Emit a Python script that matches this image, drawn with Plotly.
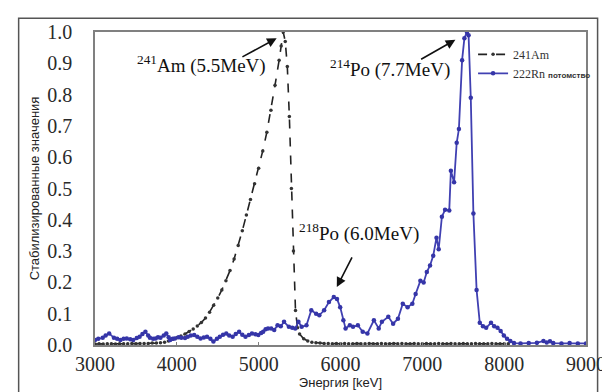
import plotly.graph_objects as go

# 241Am spectrum (normalized)
am_energy = [3000, 3050, 3100, 3150, 3200, 3250, 3300, 3350, 3400, 3450, 3500, 3550, 3600, 3650, 3700, 3750,
             3800, 3850, 3900, 3950, 4000, 4050, 4100, 4150, 4200, 4250, 4300, 4350, 4400, 4450, 4500,
             4550, 4600, 4650, 4700, 4750, 4800, 4850, 4900, 4950, 5000, 5050, 5100, 5150, 5200, 5250,
             5275, 5300, 5325, 5350, 5375, 5400, 5425, 5450, 5475, 5500, 5550, 5600, 5650, 5700, 5750,
             5800, 5850, 5900, 5950, 6000, 6050, 6100, 6150, 6200, 6250, 6300, 6350, 6400, 6450, 6500,
             6550, 6600, 6650, 6700, 6750, 6800, 6850, 6900, 6950, 7000, 7050, 7100, 7150, 7200, 7250,
             7300, 7350, 7400, 7450, 7500, 7550, 7600, 7650, 7700, 7750, 7800, 7850, 7900, 7950, 8000, 8050]
am_value = [0.003, 0.004, 0.003, 0.004, 0.004, 0.003, 0.004, 0.004, 0.004, 0.005, 0.004, 0.005, 0.005, 0.005, 0.006, 0.006,
            0.007, 0.009, 0.013, 0.018, 0.023, 0.029, 0.035, 0.043, 0.051, 0.061, 0.072, 0.086, 0.105, 0.127, 0.150,
            0.176, 0.205, 0.238, 0.275, 0.318, 0.365, 0.415, 0.465, 0.515, 0.565, 0.620, 0.680, 0.750, 0.830, 0.910,
            0.955, 1.000, 0.970, 0.890, 0.730, 0.500, 0.300, 0.110, 0.055, 0.035, 0.020, 0.013, 0.009, 0.007, 0.006,
            0.005, 0.005, 0.004, 0.005, 0.004, 0.005, 0.004, 0.004, 0.005, 0.004, 0.004, 0.005, 0.004, 0.004, 0.005,
            0.004, 0.004, 0.005, 0.004, 0.005, 0.004, 0.004, 0.005, 0.004, 0.004, 0.005, 0.004, 0.004, 0.005, 0.004,
            0.004, 0.005, 0.004, 0.004, 0.005, 0.004, 0.004, 0.005, 0.004, 0.004, 0.004, 0.005, 0.004, 0.004, 0.004, 0.004]

# 222Rn progeny spectrum (normalized)
rn_energy = [3000, 3040, 3094, 3130, 3173, 3231, 3270, 3310, 3350, 3388, 3430, 3467, 3510, 3545, 3580, 3616,
             3650, 3671, 3710, 3741, 3770, 3800, 3840, 3871, 3900, 3918, 3950, 3976, 4020, 4055, 4100, 4133,
             4170, 4212, 4250, 4290, 4330, 4369, 4410, 4447, 4490, 4525, 4565, 4604, 4640, 4682, 4720, 4761,
             4800, 4839, 4880, 4918, 4960, 4996, 5030, 5055, 5085, 5114, 5153, 5190, 5231, 5270, 5310, 5369,
             5410, 5447, 5486, 5525, 5584, 5643, 5702, 5741, 5800, 5859, 5918, 5957, 5996, 6035, 6062, 6114,
             6153, 6212, 6271, 6329, 6408, 6467, 6506, 6584, 6643, 6702, 6761, 6820, 6878, 6918, 6976, 7016,
             7055, 7094, 7133, 7173, 7200, 7239, 7278, 7329, 7349, 7388, 7420, 7447, 7486, 7514, 7545, 7565,
             7592, 7624, 7663, 7702, 7741, 7780, 7839, 7878, 7918, 7957, 7996, 8035, 8075, 8120, 8200, 8300,
             8400, 8480, 8520, 8560, 8600, 8700, 8800, 8900, 9000]
rn_value = [0.016, 0.020, 0.023, 0.030, 0.037, 0.023, 0.020, 0.016, 0.020, 0.021, 0.018, 0.016, 0.022, 0.026, 0.035, 0.042,
            0.030, 0.023, 0.020, 0.021, 0.025, 0.023, 0.030, 0.037, 0.025, 0.016, 0.020, 0.021, 0.025, 0.023, 0.022, 0.026,
            0.030, 0.032, 0.026, 0.021, 0.024, 0.026, 0.020, 0.011, 0.020, 0.026, 0.033, 0.037, 0.030, 0.026, 0.035, 0.042,
            0.033, 0.026, 0.032, 0.037, 0.034, 0.032, 0.038, 0.042, 0.050, 0.053, 0.053, 0.048, 0.063, 0.060, 0.074, 0.058,
            0.055, 0.053, 0.074, 0.058, 0.063, 0.111, 0.100, 0.095, 0.111, 0.137, 0.153, 0.147, 0.121, 0.079, 0.053, 0.063,
            0.058, 0.063, 0.042, 0.037, 0.079, 0.053, 0.074, 0.090, 0.068, 0.084, 0.132, 0.121, 0.132, 0.163, 0.205, 0.200,
            0.233, 0.254, 0.285, 0.343, 0.306, 0.410, 0.432, 0.430, 0.557, 0.520, 0.646, 0.690, 0.910, 0.980, 1.000, 0.990,
            0.790, 0.420, 0.176, 0.071, 0.060, 0.055, 0.071, 0.060, 0.055, 0.045, 0.030, 0.020, 0.013, 0.006, 0.005, 0.006,
            0.007, 0.013, 0.008, 0.012, 0.006, 0.005, 0.006, 0.005, 0.005]

x_ticks = [3000, 4000, 5000, 6000, 7000, 8000, 9000]
y_ticks = [0.0, 0.1, 0.2, 0.3, 0.4, 0.5, 0.6, 0.7, 0.8, 0.9, 1.0]

SERIF = "Liberation Serif"
SANS = "Liberation Sans"

fig = go.Figure()
fig.add_trace(go.Scatter(
    x=am_energy, y=am_value, mode="lines+markers", name="241Am",
    line=dict(color="#222222", width=1.6, dash="dash"),
    marker=dict(color="#333333", size=3.5, symbol="circle"),
))
fig.add_trace(go.Scatter(
    x=rn_energy, y=rn_value, mode="lines+markers",
    name="222Rn <span style='font-family:Liberation Sans;font-size:8px'><b>потомство</b></span>",
    line=dict(color="#4040b2", width=1.8),
    marker=dict(color="#3535a8", size=4.5, symbol="circle"),
))

ann_font = dict(family=SERIF, size=19, color="#111111")
fig.add_annotation(x=4299, y=0.895, text="<sup>241</sup>Am (5.5MeV)", showarrow=False, font=ann_font)
fig.add_annotation(x=6601, y=0.885, text="<sup>214</sup>Po (7.7MeV)", showarrow=False, font=ann_font)
fig.add_annotation(x=6223, y=0.36, text="<sup>218</sup>Po (6.0MeV)", showarrow=False, font=ann_font)

arrow_style = dict(showarrow=True, arrowhead=2, arrowsize=1.2, arrowwidth=1.6, arrowcolor="#111111",
                   axref="x", ayref="y", text="")
fig.add_annotation(x=5220, y=0.98, ax=4783, ay=0.918, **arrow_style)
fig.add_annotation(x=7404, y=0.975, ax=6967, ay=0.91, **arrow_style)
fig.add_annotation(x=5955, y=0.185, ax=6150, ay=0.285, **arrow_style)

# outer frame
fig.add_shape(type="rect", xref="paper", yref="paper", x0=-0.1555, x1=1.0236, y0=-0.2, y1=1.0443,
              line=dict(color="#555555", width=1.5), layer="below")

fig.update_layout(
    width=610, height=392,
    margin=dict(l=87, r=17, t=24, b=52),
    paper_bgcolor="white", plot_bgcolor="white",
    showlegend=True,
    legend=dict(x=0.77, y=0.975, xanchor="left", yanchor="top", bgcolor="rgba(0,0,0,0)",
                font=dict(family=SERIF, size=12, color="#333333"), itemwidth=30,
                tracegroupgap=2),
    xaxis=dict(range=[3000, 9000], tickvals=x_ticks, ticktext=[str(v) for v in x_ticks],
               showgrid=False, zeroline=False, showline=True, linecolor="#808080", linewidth=1.5,
               mirror=True, ticks="inside", ticklen=3, tickcolor="#808080", ticklabeloverflow="allow",
               tickfont=dict(family=SERIF, size=20, color="#2a2a2a"), ticklabelstandoff=0,
               title=dict(text="Энергия [keV]", font=dict(family=SANS, size=13, color="#222222"), standoff=4)),
    yaxis=dict(range=[0, 1.0], tickvals=y_ticks, ticktext=[f"{v:.1f}" for v in y_ticks],
               showgrid=False, zeroline=False, showline=True, linecolor="#808080", linewidth=1.5,
               mirror=True, ticks="", ticklabeloverflow="allow",
               tickfont=dict(family=SERIF, size=20, color="#2a2a2a"), ticklabelstandoff=17,
               title=dict(text="Стабилизированные значения", font=dict(family=SANS, size=13, color="#222222"),
                          standoff=5)),
)

fig.write_html("out.html")
